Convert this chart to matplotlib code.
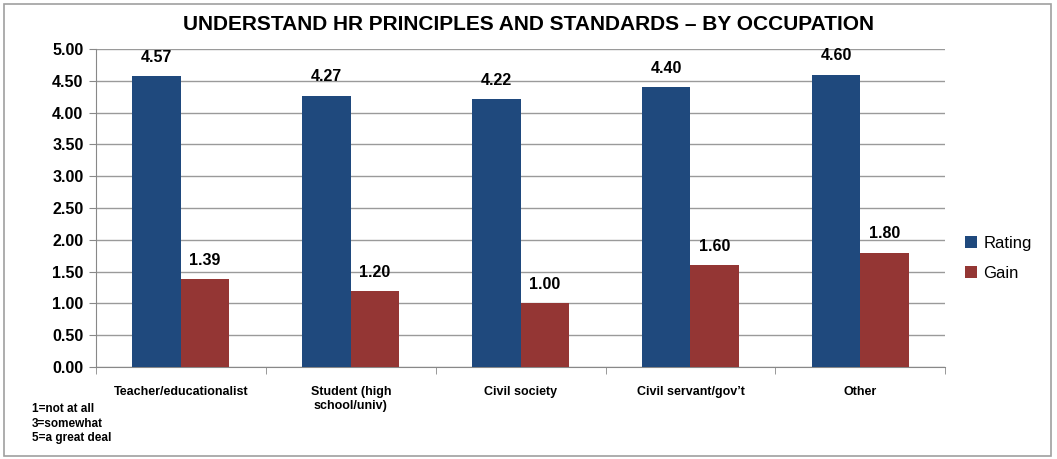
import matplotlib
matplotlib.use("Agg")
import matplotlib.pyplot as plt
import numpy as np
from matplotlib.patches import Rectangle

categories = ["Teacher/educationalist", "Student (high\nschool/univ)", "Civil society",
              "Civil servant/gov\u2019t", "Other"]
rating = [4.57, 4.27, 4.22, 4.40, 4.60]
gain = [1.39, 1.20, 1.00, 1.60, 1.80]
yticks = [0.0, 0.5, 1.0, 1.5, 2.0, 2.5, 3.0, 3.5, 4.0, 4.5, 5.0]

plt.rcParams['font.family'] = ['Liberation Sans', 'DejaVu Sans']

fig = plt.figure(figsize=(10.57, 4.59), dpi=100)
ax = fig.add_axes([0.0908, 0.2004, 0.8035, 0.6926])

x = np.arange(len(categories))
w = 0.285
b1 = ax.bar(x - w/2, rating, w, color='#1F497D', label='Rating', zorder=3)
b2 = ax.bar(x + w/2, gain, w, color='#943634', label='Gain', zorder=3)

for bars, vals in ((b1, rating), (b2, gain)):
    for r, v in zip(bars, vals):
        ax.annotate(f"{v:.2f}", (r.get_x() + r.get_width()/2, v), xytext=(0, 8),
                    textcoords='offset points', ha='center', va='bottom',
                    fontsize=11.5, fontweight='bold')

ax.set_xlim(-0.5, len(categories) - 0.5)
ax.set_ylim(0, 5)
ax.set_yticks(yticks)
ax.set_yticklabels([f"{t:.2f}" for t in yticks], fontsize=11.5, fontweight='bold')
ax.set_xticks(x)
ax.set_xticklabels(categories, fontsize=9, fontweight='bold')
ax.tick_params(axis='x', length=0, pad=14)
ax.set_xticks(np.arange(-0.5, len(categories)), minor=True)
ax.tick_params(axis='x', which='minor', length=5, color='#888888')
ax.tick_params(axis='y', length=5, color='#888888', pad=4)
ax.yaxis.grid(True, color='#9a9a9a', linewidth=1, zorder=0)
ax.set_axisbelow(True)
for s in ('top', 'right'):
    ax.spines[s].set_visible(False)
ax.spines['left'].set_color('#888888')
ax.spines['bottom'].set_color('#888888')

fig.text(0.5, 0.947, "UNDERSTAND HR PRINCIPLES AND STANDARDS \u2013 BY OCCUPATION",
         ha='center', va='center', fontsize=15, fontweight='bold')

fig.text(0.030, 0.077, "1=not at all\n3=somewhat\n5=a great deal", ha='left', va='center',
         fontsize=8.5, fontweight='bold', linespacing=1.25)

leg = fig.legend(handles=[b1, b2], loc='center left', bbox_to_anchor=(0.899, 0.437),
                 frameon=False, fontsize=12, handlelength=0.7, handleheight=0.7,
                 handletextpad=0.4, labelspacing=0.9)

fig.patches.append(Rectangle((0.004, 0.006), 0.99, 0.985, transform=fig.transFigure,
                             fill=False, edgecolor='#a0a0a0', linewidth=1.2))

fig.savefig("out.png", dpi=100)
